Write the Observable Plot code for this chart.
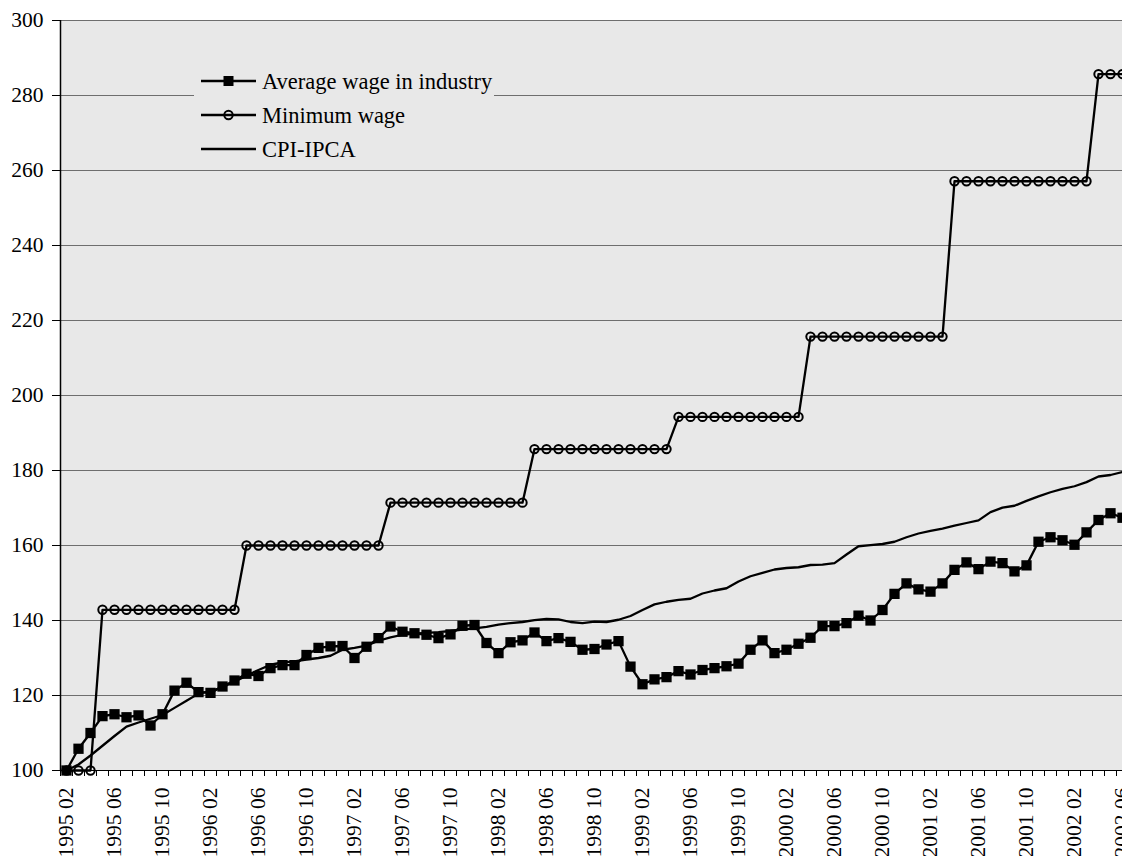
<!DOCTYPE html>
<html>
<head>
<meta charset="utf-8">
<script src="https://cdn.jsdelivr.net/npm/d3@7"></script>
<script src="https://cdn.jsdelivr.net/npm/@observablehq/plot@0.6"></script>
<style>
  html, body { margin: 0; padding: 0; background: #fff; overflow: hidden; }
  #chart { width: 1122px; height: 856px; overflow: hidden; }
  #chart svg { max-width: none !important; display: block; }
</style>
</head>
<body>
<div id="chart"></div>
<script>
// Monthly categories: 1995 02 .. 2002 06
const months = d3.utcMonths(new Date(Date.UTC(1995, 1, 1)), new Date(Date.UTC(2002, 6, 1)))
  .map(d => d3.utcFormat("%Y %m")(d));

// Tick labels shown on the x axis (every 4 months)
const tickLabels = ["1995 02","1995 06","1995 10","1996 02","1996 06","1996 10","1997 02","1997 06","1997 10",
  "1998 02","1998 06","1998 10","1999 02","1999 06","1999 10","2000 02","2000 06","2000 10",
  "2001 02","2001 06","2001 10","2002 02","2002 06"];

const yTicks = [100, 120, 140, 160, 180, 200, 220, 240, 260, 280, 300];

const seriesNames = ["Average wage in industry", "Minimum wage", "CPI-IPCA"];

const avgWage = [
  100.0, 105.8, 110.0, 114.5, 115.0, 114.2, 114.7, 112.0, 115.0, 121.3, 123.4,
  120.9, 120.7, 122.4, 124.0, 125.8, 125.2, 127.3, 128.1, 128.1, 130.8, 132.7, 133.1,
  133.2, 130.0, 133.0, 135.3, 138.4, 137.0, 136.6, 136.2, 135.3, 136.3, 138.6, 138.8,
  134.0, 131.3, 134.2, 134.7, 136.8, 134.5, 135.3, 134.3, 132.2, 132.4, 133.6, 134.5,
  127.7, 123.0, 124.3, 124.9, 126.5, 125.6, 126.8, 127.3, 127.8, 128.5, 132.2, 134.7,
  131.3, 132.2, 133.8, 135.4, 138.5, 138.5, 139.3, 141.3, 140.0, 142.8, 147.1, 149.9,
  148.3, 147.7, 149.9, 153.5, 155.5, 153.7, 155.7, 155.3, 153.1, 154.7, 161.0, 162.2,
  161.4, 160.2, 163.5, 166.8, 168.6, 167.4
];

const minWage = [
  100.00, 100.00, 100.00, 142.86, 142.86, 142.86, 142.86, 142.86, 142.86, 142.86, 142.86,
  142.86, 142.86, 142.86, 142.86, 160.00, 160.00, 160.00, 160.00, 160.00, 160.00, 160.00, 160.00,
  160.00, 160.00, 160.00, 160.00, 171.43, 171.43, 171.43, 171.43, 171.43, 171.43, 171.43, 171.43,
  171.43, 171.43, 171.43, 171.43, 185.71, 185.71, 185.71, 185.71, 185.71, 185.71, 185.71, 185.71,
  185.71, 185.71, 185.71, 185.71, 194.29, 194.29, 194.29, 194.29, 194.29, 194.29, 194.29, 194.29,
  194.29, 194.29, 194.29, 215.71, 215.71, 215.71, 215.71, 215.71, 215.71, 215.71, 215.71, 215.71,
  215.71, 215.71, 215.71, 257.14, 257.14, 257.14, 257.14, 257.14, 257.14, 257.14, 257.14, 257.14,
  257.14, 257.14, 257.14, 285.71, 285.71, 285.71
];

const cpi = [
  100.0, 101.6, 104.0, 106.6, 109.2, 111.7, 112.8, 113.8, 114.8, 116.7, 118.6,
  120.5, 121.2, 122.2, 123.7, 125.3, 126.8, 128.2, 128.8, 129.1, 129.6, 130.0, 130.6,
  132.2, 132.7, 133.3, 134.6, 135.5, 136.2, 136.5, 136.7, 136.9, 137.2, 137.6, 137.9,
  138.3, 138.9, 139.3, 139.6, 140.1, 140.4, 140.3, 139.6, 139.3, 139.7, 139.6, 140.2,
  141.2, 142.8, 144.3, 145.0, 145.5, 145.8, 147.2, 148.0, 148.6, 150.4, 151.8, 152.7,
  153.6, 154.0, 154.2, 154.8, 154.9, 155.3, 157.6, 159.8, 160.1, 160.4, 161.0, 162.2,
  163.2, 163.9, 164.5, 165.3, 166.0, 166.7, 168.9, 170.1, 170.6, 171.9, 173.1, 174.2,
  175.1, 175.8, 176.9, 178.4, 178.8, 179.6
];

const rows = months.map((m, i) => ({i, m, avg: avgWage[i], minw: minWage[i], cpi: cpi[i]}));
const tickIdx = tickLabels.map(l => months.indexOf(l));
const boundaries = d3.range(months.length + 1).map(i => i - 0.5);

const font = "'Liberation Serif', 'Times New Roman', Times, serif";

const chart = Plot.plot({
  width: 1128,
  height: 856,
  marginLeft: 60,
  marginRight: 0,
  marginTop: 20,
  marginBottom: 86,
  style: {fontFamily: font, fontSize: "21px", color: "#000", background: "transparent", overflow: "visible", maxWidth: "none"},
  x: {type: "linear", domain: [-0.5, months.length - 0.5]},
  y: {domain: [100, 300]},
  marks: [
    Plot.frame({fill: "#e8e8e8", stroke: null}),
    Plot.ruleY(yTicks, {stroke: "#6e6e6e", strokeWidth: 1}),
    Plot.axisY({ticks: yTicks, tickSize: 8, tickPadding: 9, label: null, stroke: "#000", fill: "#000", fontSize: 21.5}),
    Plot.axisX({ticks: boundaries, tickSize: 6, tickFormat: () => "", label: null, stroke: "#000"}),
    Plot.axisX({ticks: tickIdx, tickSize: 0, tickPadding: 17, tickRotate: -90, tickFormat: i => months[i], label: null, fill: "#000", fontSize: 21.5}),
    Plot.ruleX([-0.5], {stroke: "#000", strokeWidth: 1.5}),
    Plot.ruleY([100], {stroke: "#000", strokeWidth: 1.2}),
    Plot.lineY(rows, {x: "i", y: "cpi", stroke: "#000", strokeWidth: 2.3}),
    Plot.lineY(rows, {x: "i", y: "minw", stroke: "#000", strokeWidth: 2.3}),
    Plot.dot(rows, {x: "i", y: "minw", r: 4.2, symbol: "circle", stroke: "#000", strokeWidth: 2, fill: "none"}),
    Plot.lineY(rows, {x: "i", y: "avg", stroke: "#000", strokeWidth: 2.3}),
    Plot.dot(rows, {x: "i", y: "avg", r: 5.8, symbol: "square", fill: "#000", stroke: "none"})
  ]
});

document.getElementById("chart").appendChild(chart);

// Legend (inside plot area, grey box hiding the gridline)
const svg = d3.select(chart);
const lg = svg.append("g").attr("font-family", font).attr("font-size", 22.5).attr("text-anchor", "start");
lg.append("rect").attr("x", 194).attr("y", 63).attr("width", 300).attr("height", 102).attr("fill", "#e8e8e8");
const rowsY = [81, 115, 149];
seriesNames.forEach((name, k) => {
  const y = rowsY[k];
  lg.append("line").attr("x1", 201).attr("x2", 256).attr("y1", y).attr("y2", y)
    .attr("stroke", "#000").attr("stroke-width", 2.3);
  if (k === 0) {
    lg.append("rect").attr("x", 228.5 - 5).attr("y", y - 5).attr("width", 10).attr("height", 10).attr("fill", "#000");
  } else if (k === 1) {
    lg.append("circle").attr("cx", 228.5).attr("cy", y).attr("r", 4.2)
      .attr("fill", "none").attr("stroke", "#000").attr("stroke-width", 2);
  }
  lg.append("text").attr("x", 262).attr("y", y).attr("dy", "0.35em").attr("text-anchor", "start")
    .attr("fill", "#000").text(name);
});
</script>
</body>
</html>
